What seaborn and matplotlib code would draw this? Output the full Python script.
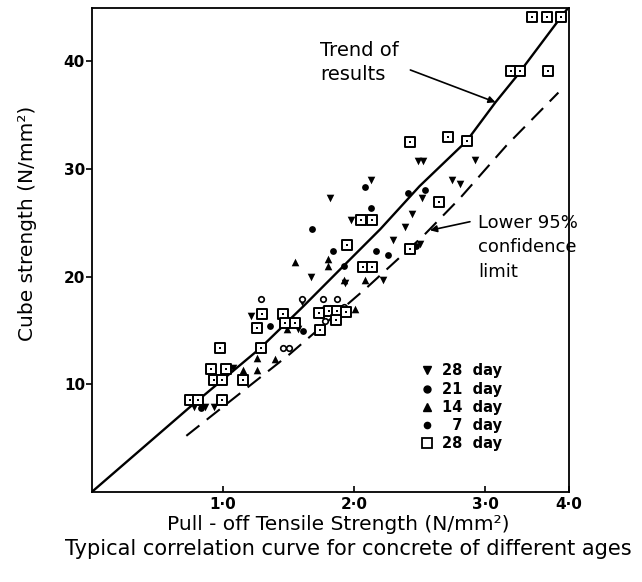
import matplotlib
matplotlib.use("Agg")
import matplotlib.pyplot as plt
import seaborn as sns
from matplotlib.lines import Line2D

# ---------------- data ----------------
# trend of results (solid curve)
trend_x = [0.0, 0.75, 1.28, 1.61, 1.97, 2.20, 2.50, 2.86, 3.08, 3.24, 3.585, 3.63]
trend_y = [0.0, 7.9, 13.3, 17.2, 21.6, 24.4, 28.4, 32.6, 36.2, 38.6, 44.2, 44.9]

# lower 95% confidence limit (dashed curve)
lower_x = [0.72, 1.00, 1.51, 2.10, 2.53, 2.81, 3.165, 3.56]
lower_y = [5.2, 7.9, 12.8, 19.0, 23.8, 27.3, 32.2, 37.1]

# 28 day (open squares)
sq_x = [3.36, 3.47, 3.58, 3.20, 3.27, 3.48, 2.43, 2.72, 2.86, 2.65, 2.05, 2.14,
        1.95, 2.07, 2.14, 2.43, 1.73, 1.81, 1.87, 1.94, 1.86, 1.74, 1.30, 1.46,
        1.47, 1.55, 1.26, 1.29, 0.98, 0.91, 1.02, 0.93, 0.995, 1.15, 0.75, 0.81, 0.99]
sq_y = [44.1, 44.1, 44.1, 39.1, 39.1, 39.1, 32.5, 33.0, 32.6, 26.9, 25.3, 25.3,
        22.9, 20.9, 20.9, 22.6, 16.6, 16.8, 16.8, 16.7, 16.0, 15.0, 16.5, 16.5,
        15.7, 15.7, 15.2, 13.4, 13.4, 11.4, 11.4, 10.4, 10.4, 10.4, 8.5, 8.5, 8.5]

# 28 day (filled down triangles)
d28_x = [2.49, 2.53, 2.92, 2.13, 1.82, 2.75, 2.81, 2.52, 2.44, 2.39, 2.30, 1.98,
         1.67, 2.22, 1.21, 1.60, 1.93, 2.50, 1.08, 0.78, 0.86, 0.93, 1.79, 1.57]
d28_y = [30.7, 30.7, 30.8, 29.0, 27.3, 29.0, 28.6, 27.3, 25.8, 24.6, 23.4, 25.3,
         20.0, 19.7, 16.3, 17.6, 19.4, 23.0, 11.5, 7.9, 7.9, 7.9, 16.9, 15.1]

# 21 day (filled circles)
d21_x = [2.08, 2.41, 1.68, 1.84, 2.13, 2.26, 2.17, 1.36, 1.61, 1.92, 2.54, 1.77,
         0.83, 2.47, 1.86]
d21_y = [28.3, 27.8, 24.4, 22.4, 26.4, 22.0, 22.4, 15.4, 14.9, 21.0, 28.0, 17.0,
         7.8, 22.8, 17.0]

# 14 day (filled up triangles)
d14_x = [1.55, 1.80, 1.80, 1.92, 2.08, 1.26, 1.26, 1.40, 1.155, 1.82, 1.49, 2.01]
d14_y = [21.4, 21.6, 21.0, 19.7, 19.7, 12.4, 11.3, 12.3, 11.3, 17.1, 15.1, 17.0]

# 7 day (small circles)
d7_x = [1.46, 1.50, 1.29, 1.60, 1.76, 1.87, 1.92, 1.78]
d7_y = [13.4, 13.4, 17.9, 17.9, 17.9, 17.9, 17.2, 15.9]

legend_labels = ["28  day", "21  day", "14  day", "  7  day", "28  day"]
xtick_vals = [1, 2, 3]
xtick_labels = ["1·0", "2·0", "3·0", "4·0"]
ytick_vals = [10, 20, 30, 40]
ytick_labels = ["10", "20", "30", "40"]

# ---------------- plotting ----------------
sns.set_style("ticks")
plt.rcParams['font.family'] = ['DejaVu Sans']
plt.rcParams['text.color'] = 'black'
plt.rcParams['axes.labelcolor'] = 'black'
plt.rcParams['xtick.color'] = 'black'
plt.rcParams['ytick.color'] = 'black'

XMAX, YMAX = 3.64, 45.0

fig = plt.figure(figsize=(6.42, 5.82), dpi=100)
ax = fig.add_axes([0.1433, 0.155, 0.7428, 0.832])

sns.lineplot(x=trend_x, y=trend_y, ax=ax, color="black", linewidth=1.7,
             sort=False, estimator=None)
sns.lineplot(x=lower_x, y=lower_y, ax=ax, color="black", linewidth=1.5,
             sort=False, estimator=None, linestyle=(0, (8, 4.5)))

sns.scatterplot(x=d28_x, y=d28_y, ax=ax, marker="v", s=30, color="black",
                linewidth=0, zorder=3)
sns.scatterplot(x=d21_x, y=d21_y, ax=ax, marker="o", s=24, color="black",
                linewidth=0, zorder=3)
sns.scatterplot(x=d14_x, y=d14_y, ax=ax, marker="^", s=30, color="black",
                linewidth=0, zorder=3)
sns.scatterplot(x=d7_x, y=d7_y, ax=ax, marker="o", s=16, color="white",
                edgecolor="black", linewidth=1.2, zorder=3)
sns.scatterplot(x=sq_x, y=sq_y, ax=ax, marker="s", s=55, color="white",
                edgecolor="black", linewidth=1.4, zorder=4)
sns.scatterplot(x=sq_x, y=sq_y, ax=ax, marker="s", s=3, color="black",
                linewidth=0, zorder=5)

ax.set_xlim(0, XMAX)
ax.set_ylim(0, YMAX)
ax.set_xticks(xtick_vals + [XMAX])
ax.set_xticklabels(xtick_labels, fontsize=11, fontweight="bold")
ax.set_yticks(ytick_vals)
ax.set_yticklabels(ytick_labels, fontsize=11, fontweight="bold")
ax.tick_params(axis="x", direction="in", length=4, width=1.2, pad=4, colors="black")
ax.tick_params(axis="y", direction="out", length=4, width=1.2, pad=1, colors="black")
for sp in ax.spines.values():
    sp.set_visible(True)
    sp.set_linewidth(1.3)
    sp.set_color("black")

ax.set_xlabel("Pull - off Tensile Strength (N/mm²)", fontsize=14.5)
ax.xaxis.set_label_coords(0.517, -0.048)
ax.set_ylabel("Cube strength (N/mm²)", fontsize=14.5)
ax.yaxis.set_label_coords(-0.115, 0.555)

fig.text(0.542, 0.056, "Typical correlation curve for concrete of different ages",
         fontsize=15, ha="center", va="center")

# annotations
ax.text(1.74, 41.9, "Trend of\nresults", fontsize=14, ha="left", va="top",
        linespacing=1.35)
ax.annotate("", xy=(3.08, 36.2), xytext=(2.43, 39.2),
            arrowprops=dict(arrowstyle="-|>", color="black", lw=1.2,
                            mutation_scale=10, shrinkA=0, shrinkB=0))
ax.text(2.95, 25.8, "Lower 95%\nconfidence\nlimit", fontsize=13, ha="left",
        va="top", linespacing=1.45)
ax.annotate("", xy=(2.58, 24.3), xytext=(2.885, 25.1),
            arrowprops=dict(arrowstyle="-|>", color="black", lw=1.2,
                            mutation_scale=10, shrinkA=0, shrinkB=0))

# legend
handles = [
    Line2D([], [], ls="none", marker="v", color="black", markersize=5.5),
    Line2D([], [], ls="none", marker="o", color="black", markersize=5),
    Line2D([], [], ls="none", marker="^", color="black", markersize=5.5),
    Line2D([], [], ls="none", marker="o", color="black", markersize=4.5),
    Line2D([], [], ls="none", marker="s", markerfacecolor="white",
           markeredgecolor="black", markeredgewidth=1.3, markersize=7),
]
leg = ax.legend(handles, legend_labels, loc="upper left",
                bbox_to_anchor=(0.675, 0.277), frameon=False,
                handlelength=1.0, handletextpad=0.5, labelspacing=0.22,
                prop={"size": 10.5, "weight": "bold"}, borderaxespad=0)

fig.savefig("out.png", dpi=100)
